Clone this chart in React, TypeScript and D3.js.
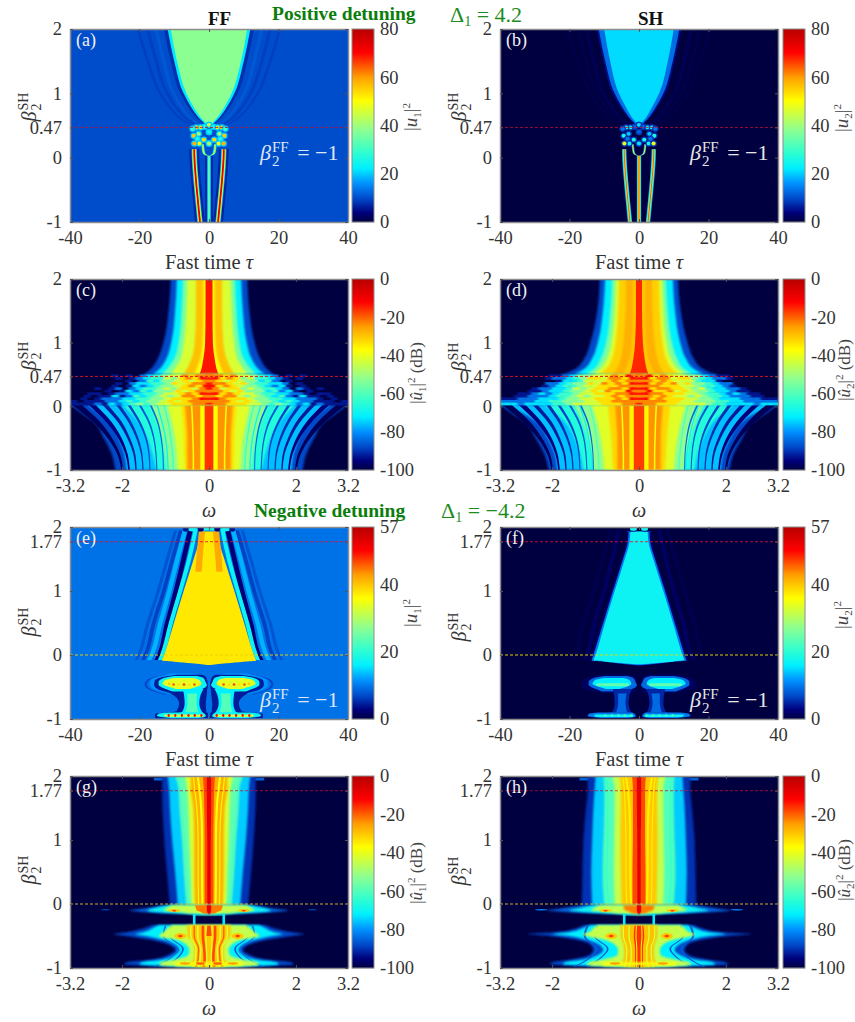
import React, { useEffect, useRef } from 'react';
import * as d3 from 'd3';

type Pt = [number, number, number];
type Band = [number, Pt[]];
type Cell = [number, number, number, number, number];

// colormap (fraction of the colour range -> colour)
const jetStops = [0, 0.05, 0.12, 0.2, 0.28, 0.36, 0.48, 0.63, 0.75, 0.88, 1];
const jetColors = ['#000040', '#00007c', '#0048c8', '#0090ff', '#00f0ff', '#30ffd0', '#90ff90', '#ffff00', '#ffa000', '#ff0000', '#b80000'];

const tauTicks = [-40, -20, 0, 20, 40];
const omegaTicks = [-3.2, -2, 0, 2, 3.2];
const betaTicksTop = [-1, 0, 0.47, 1, 2];
const betaTicksBottom = [-1, 0, 1, 1.77, 2];
const powerTicksPos = [0, 20, 40, 60, 80];
const powerTicksNeg = [0, 20, 40, 57];
const dbTicks = [-100, -80, -60, -40, -20, 0];

// hw may vary along the line: stripes open up towards their tips
const ridge = (v: number, hw: number | number[], betas: number[], centers: number[]): Band =>
  [v, betas.map((b, i) => {
    const w = Array.isArray(hw) ? hw[i] : hw;
    return [b, Math.max(0.0001, centers[i] - w), centers[i] + w] as Pt;
  })];

const col = (v: number, betas: number[], widths: number[]): Band =>
  [v, betas.map((b, i) => [b, 0, widths[i]] as Pt)];

// ---- panels a, b: positive detuning, time domain
const topBetas = [2, 1.5, 1, 0.75, 0.6, 0.52];
const plateauA = [11, 9.2, 6.5, 4, 2, 0.6];
const rimA = [11.9, 10, 7.3, 4.7, 2.6, 1.1];
const haloA = [12.9, 11, 8.2, 5.5, 3.2, 1.6];
const rippleA1 = [15.2, 13, 10.2, 7.4, 5, 3];
const rippleA2 = [17.6, 15.2, 12, 9, 6.4, 4.2];
const rippleA3 = [20.4, 17.6, 14, 10.8, 8, 5.6];
const sideBetas = [-1, -0.75, -0.5, -0.25, 0, 0.13];
const sideLine = [2.6, 3.05, 3.5, 3.9, 4.2, 4.25];
const centerBetas = [-1, 0.03];
const cupBetas = [0.21, 0.14, 0.08, 0.05, 0.035];
const cupLine = [1.8, 1.7, 1.5, 1.1, 0.4];

const bandsA: Band[] = [
  ridge(9, 0.4, topBetas, rippleA3),
  ridge(9, 0.45, topBetas, rippleA2),
  ridge(11, 0.5, topBetas, rippleA1),
  col(7.5, topBetas, haloA),
  col(22, topBetas, rimA),
  col(38, topBetas, plateauA),
  ridge(6.5, 1.4, sideBetas, sideLine),
  col(6.5, centerBetas, [1.1, 1.1]),
  ridge(22, 0.75, sideBetas, sideLine),
  ridge(50, 0.5, sideBetas, sideLine),
  ridge(74, 0.27, sideBetas, sideLine),
  col(22, centerBetas, [0.5, 0.5]),
  col(36, centerBetas, [0.2, 0.2]),
  ridge(24, 0.4, cupBetas, cupLine),
  ridge(52, 0.16, cupBetas, cupLine),
];

const bandsB: Band[] = [
  ridge(0.8, 0.4, topBetas, rippleA3),
  ridge(0.8, 0.45, topBetas, rippleA2),
  ridge(1.4, 0.5, topBetas, rippleA1),
  col(5, topBetas, [12.2, 10.2, 7.6, 4.9, 2.8, 1.3]),
  col(13, topBetas, [11.6, 9.7, 7, 4.4, 2.4, 1]),
  col(21, topBetas, [10, 8.3, 5.8, 3.4, 1.7, 0.5]),
  ridge(21, 0.62, sideBetas, sideLine),
  ridge(40, 0.35, sideBetas, sideLine),
  ridge(64, 0.16, sideBetas, sideLine),
  col(21, centerBetas, [0.6, 0.6]),
  col(48, centerBetas, [0.35, 0.35]),
  col(66, centerBetas, [0.14, 0.14]),
  ridge(16, 0.35, cupBetas, cupLine),
  ridge(50, 0.14, cupBetas, cupLine),
];

const checkerTau = [0, 1.3, 2.5, 3.7, 4.7, 0, 3, 4.4, 3.3, 1.5, 0, 2.8, 4.2];
const checkerBeta = [0.51, 0.48, 0.47, 0.47, 0.45, 0.4, 0.37, 0.34, 0.29, 0.28, 0.22, 0.22, 0.22];
const checkerA = [46, 26, 52, 56, 30, 24, 40, 56, 26, 54, 42, 50, 58];
const checkerB = [22, 12, 24, 26, 14, 12, 20, 26, 14, 26, 22, 24, 48];
// each cell is a cyan blot with a brighter middle
const cellsOf = (vals: number[], rim: number): Cell[] => vals.flatMap((v, i) => [
  [checkerTau[i], checkerBeta[i], rim, 0.95, 0.05] as Cell,
  [checkerTau[i], checkerBeta[i], v, 0.6, 0.03] as Cell,
]);

// ---- panels c, d: positive detuning, spectra
const upperBetas = [2, 1.5, 1, 0.75, 0.6, 0.5];
const fingerBetas = [-1, -0.75, -0.5, -0.25, 0.03];
const edgeBetas = [-1, -0.75, -0.5, -0.25, -0.1, 0.03];
const chaosBetas = [0.5, 0.3, 0.03];
const stripeValues = [-84, -86, -88, -90, -92, -95, -98];
const stripeWidths = [
  [0.012, 0.012, 0.014, 0.018, 0.022],
  [0.012, 0.013, 0.016, 0.022, 0.028],
  [0.013, 0.015, 0.02, 0.028, 0.036],
  [0.014, 0.018, 0.026, 0.036, 0.046],
  [0.016, 0.022, 0.032, 0.046, 0.06],
  [0.018, 0.026, 0.04, 0.06, 0.08],
  [0.02, 0.032, 0.05, 0.08, 0.11],
];
const fingerStripes = [
  [1.05, 1.06, 1.1, 1.18, 1.35],
  [1.2, 1.22, 1.27, 1.38, 1.6],
  [1.36, 1.38, 1.45, 1.6, 1.85],
  [1.52, 1.55, 1.65, 1.82, 2.1],
  [1.68, 1.72, 1.85, 2.05, 2.4],
  [1.84, 1.9, 2.05, 2.3, 2.7],
  [2.0, 2.08, 2.28, 2.58, 3.05],
];

const bandsC: Band[] = [
  col(-88, upperBetas, [0.88, 0.93, 1.05, 1.18, 1.32, 1.5]),
  col(-72, upperBetas, [0.74, 0.78, 0.87, 0.98, 1.12, 1.3]),
  col(-55, upperBetas, [0.6, 0.63, 0.7, 0.8, 0.95, 1.1]),
  col(-42, upperBetas, [0.5, 0.52, 0.58, 0.65, 0.78, 0.9]),
  col(-29, upperBetas, [0.3, 0.3, 0.33, 0.4, 0.5, 0.6]),
  col(-38, upperBetas, [0.13, 0.13, 0.15, 0.2, 0.28, 0.35]),
  col(-14, upperBetas, [0.08, 0.08, 0.09, 0.13, 0.17, 0.22]),
  col(-88, edgeBetas, [2.16, 2.24, 2.42, 2.65, 2.95, 3.2]),
  col(-76, edgeBetas, [1.9, 1.95, 2.08, 2.3, 2.55, 2.8]),
  col(-66, fingerBetas, [1.2, 1.3, 1.42, 1.62, 2.0]),
  col(-52, fingerBetas, [0.98, 1.02, 1.08, 1.2, 1.35]),
  col(-41, fingerBetas, [0.72, 0.74, 0.78, 0.85, 0.95]),
  col(-33, fingerBetas, [0.56, 0.57, 0.58, 0.6, 0.64]),
  col(-24, fingerBetas, [0.5, 0.5, 0.5, 0.52, 0.55]),
  col(-37, fingerBetas, [0.2, 0.2, 0.2, 0.2, 0.2]),
  col(-16, fingerBetas, [0.1, 0.1, 0.1, 0.1, 0.1]),
  ridge(-38, 0.018, fingerBetas, [0.36, 0.36, 0.37, 0.38, 0.4]),
  ridge(-62, 0.016, fingerBetas, [0.82, 0.84, 0.88, 0.94, 1.04]),
  ridge(-70, 0.016, fingerBetas, [0.94, 0.96, 1.0, 1.08, 1.2]),
  ...fingerStripes.map((s, i) => ridge(stripeValues[i], stripeWidths[i], fingerBetas, s)),
  col(-84, chaosBetas, [1.5, 1.8, 2.4]),
  col(-62, chaosBetas, [1.1, 1.3, 1.7]),
  col(-40, chaosBetas, [0.8, 0.85, 1.0]),
  col(-24, chaosBetas, [0.5, 0.5, 0.55]),
  col(-14, chaosBetas, [0.1, 0.1, 0.1]),
];

const bandsD: Band[] = [
  col(-88, upperBetas, [0.9, 0.96, 1.12, 1.26, 1.44, 1.75]),
  col(-72, upperBetas, [0.78, 0.83, 0.95, 1.08, 1.24, 1.5]),
  col(-55, upperBetas, [0.62, 0.66, 0.76, 0.88, 1.02, 1.25]),
  col(-42, upperBetas, [0.53, 0.56, 0.64, 0.74, 0.88, 1.08]),
  col(-31, upperBetas, [0.46, 0.48, 0.54, 0.62, 0.74, 0.92]),
  col(-27, upperBetas, [0.3, 0.31, 0.36, 0.42, 0.5, 0.62]),
  col(-30, upperBetas, [0.14, 0.14, 0.16, 0.22, 0.3, 0.38]),
  col(-15, upperBetas, [0.07, 0.07, 0.09, 0.13, 0.17, 0.22]),
  col(-88, edgeBetas, [2.08, 2.18, 2.38, 2.62, 2.95, 3.2]),
  col(-76, edgeBetas, [1.88, 1.94, 2.1, 2.35, 2.7, 3.15]),
  col(-66, fingerBetas, [1.28, 1.35, 1.48, 1.7, 2.2]),
  col(-52, fingerBetas, [1.05, 1.1, 1.18, 1.3, 1.5]),
  col(-41, fingerBetas, [0.8, 0.83, 0.88, 0.96, 1.08]),
  col(-32, fingerBetas, [0.6, 0.62, 0.64, 0.68, 0.72]),
  col(-24, fingerBetas, [0.5, 0.5, 0.5, 0.52, 0.55]),
  col(-36, fingerBetas, [0.22, 0.22, 0.22, 0.22, 0.22]),
  col(-17, fingerBetas, [0.12, 0.12, 0.12, 0.12, 0.12]),
  ridge(-38, 0.018, fingerBetas, [0.36, 0.36, 0.37, 0.38, 0.4]),
  ridge(-60, 0.016, fingerBetas, [0.92, 0.94, 0.98, 1.04, 1.14]),
  ridge(-70, 0.016, fingerBetas, [1.08, 1.1, 1.16, 1.24, 1.38]),
  ...fingerStripes.map((s, i) => ridge(stripeValues[i], stripeWidths[i], fingerBetas, s)),
  col(-84, chaosBetas, [1.8, 2.0, 2.8]),
  col(-62, chaosBetas, [1.3, 1.5, 2.0]),
  col(-38, chaosBetas, [1.0, 1.05, 1.2]),
  col(-24, chaosBetas, [0.6, 0.6, 0.62]),
  col(-14, chaosBetas, [0.1, 0.1, 0.1]),
];

// chaotic zone, in tens of dB below peak; 10 = nothing
const chaosC = [
  [2, 2, 3, 2, 4, 4, 5, 6, 7, 8, 10, 9, 10, 9, 10, 10, 10, 10, 10, 10],
  [1, 3, 2, 3, 5, 4, 6, 6, 7, 8, 9, 10, 9, 10, 10, 10, 10, 10, 10, 10],
  [2, 3, 4, 3, 4, 5, 5, 7, 6, 8, 10, 9, 10, 10, 10, 10, 10, 10, 10, 10],
  [2, 2, 3, 4, 3, 5, 6, 6, 7, 7, 8, 10, 9, 10, 10, 10, 10, 10, 10, 10],
  [1, 3, 2, 3, 4, 5, 5, 6, 7, 8, 7, 9, 10, 9, 10, 10, 10, 10, 10, 10],
  [2, 4, 3, 3, 5, 4, 5, 6, 6, 7, 8, 10, 8, 9, 10, 9, 10, 10, 10, 10],
  [2, 2, 3, 4, 3, 5, 5, 5, 7, 6, 8, 7, 9, 10, 9, 10, 10, 10, 10, 10],
  [1, 3, 2, 3, 4, 4, 5, 6, 6, 7, 7, 8, 8, 9, 10, 9, 9, 10, 10, 10],
  [2, 3, 2, 2, 4, 5, 4, 5, 6, 7, 6, 8, 9, 7, 9, 9, 10, 9, 10, 10],
  [1, 2, 3, 3, 3, 4, 5, 5, 6, 6, 7, 7, 8, 8, 8, 9, 10, 9, 10, 10],
  [2, 2, 2, 3, 4, 3, 4, 5, 5, 6, 7, 6, 7, 8, 8, 9, 9, 9, 10, 9],
  [2, 2, 3, 3, 3, 4, 4, 5, 6, 5, 6, 7, 8, 7, 9, 8, 9, 9, 9, 9],
];
const chaosD = [
  [2, 1, 3, 2, 3, 4, 4, 5, 5, 7, 8, 9, 9, 10, 10, 10, 10, 10, 10, 10],
  [1, 3, 2, 2, 4, 3, 3, 5, 6, 7, 8, 8, 9, 10, 10, 10, 10, 10, 10, 10],
  [2, 2, 3, 2, 3, 4, 4, 4, 6, 7, 7, 9, 10, 10, 10, 10, 10, 10, 10, 10],
  [1, 3, 2, 3, 2, 4, 3, 5, 5, 6, 7, 8, 8, 10, 10, 10, 10, 10, 10, 10],
  [2, 2, 2, 3, 3, 3, 4, 4, 5, 6, 6, 7, 8, 9, 10, 10, 10, 10, 10, 10],
  [1, 3, 2, 2, 3, 3, 4, 5, 4, 6, 7, 7, 8, 8, 9, 10, 10, 10, 10, 10],
  [2, 1, 3, 3, 2, 4, 3, 4, 5, 5, 6, 7, 7, 8, 9, 9, 10, 10, 10, 10],
  [1, 2, 2, 3, 3, 3, 4, 4, 5, 6, 6, 7, 8, 7, 8, 9, 9, 10, 10, 10],
  [2, 2, 3, 2, 3, 4, 4, 5, 4, 5, 6, 6, 7, 8, 8, 8, 9, 9, 10, 10],
  [1, 3, 2, 3, 3, 3, 4, 4, 5, 5, 6, 7, 7, 7, 8, 8, 8, 9, 9, 9],
  [2, 2, 2, 2, 3, 3, 4, 4, 5, 5, 5, 6, 6, 7, 7, 8, 8, 8, 8, 8],
  [2, 2, 3, 3, 3, 4, 4, 4, 4, 5, 6, 6, 7, 7, 7, 7, 8, 7, 7, 7],
];

// ---- panels e, f: negative detuning, time domain
const rippleBetas = [1.95, 1.5, 1, 0.5, 0, -0.08];
const bandsE: Band[] = [
  ridge(7.6, 0.45, rippleBetas, [9.6, 12, 14.6, 17.6, 20.2, 20.9]),
  ridge(6.5, 0.55, rippleBetas, [8.1, 10.5, 13, 15.9, 18.3, 19]),
  ridge(13, 0.65, rippleBetas, [6.9, 9.1, 11.4, 14, 16.5, 17.2]),
  ridge(2.5, 0.7, rippleBetas, [5.4, 7.3, 9.5, 12, 14.3, 15]),
  ridge(17, 0.6, rippleBetas, [3.9, 5.7, 8.3, 11, 13.5, 14.1]),
  [37.5, [[1.93, 0, 2.8], [1.77, 0, 3], [1.5, 0, 4.4], [1, 0, 7.3], [0.5, 0, 10.1], [0, 0, 12.9], [-0.09, 0, 13.5], [-0.105, 0, 10], [-0.13, 0, 5], [-0.155, 0, 0.5]]],
  ridge(42, 0.9, [1.93, 1.6, 1.3], [2, 2.6, 3]),
  ridge(6.8, 0.35, [-0.3, -0.38, -0.46, -0.55, -0.62], [12, 17.2, 18.2, 16.5, 12.5]),
  [11.5, [[-0.29, 5, 11], [-0.33, 2.5, 14], [-0.4, 1.5, 16.8], [-0.47, 1, 17], [-0.54, 2, 15.6], [-0.6, 6, 11.5]]],
  [4.5, [[-0.31, 2, 9], [-0.34, 0.9, 13], [-0.4, 0.5, 15.6], [-0.47, 0.3, 15.8], [-0.54, 0.5, 14.6], [-0.6, 0.6, 11], [-0.75, 0.9, 8.6], [-0.88, 0.8, 9.4], [-0.92, 0.3, 15.5], [-0.99, 0.3, 15.5]]],
  [17, [[-0.33, 3.5, 10], [-0.36, 1.6, 13], [-0.42, 1, 14.5], [-0.47, 0.6, 14.5], [-0.52, 1.5, 13], [-0.57, 5, 10.5]]],
  [34, [[-0.36, 4.5, 10], [-0.39, 2.8, 12.6], [-0.45, 2.2, 13.4], [-0.49, 3.2, 12], [-0.53, 5.6, 9.5]]],
  [16, [[-0.53, 1.6, 7.5], [-0.62, 2.4, 7.2], [-0.75, 2.8, 7], [-0.88, 2.1, 7.6], [-0.92, 1.5, 9]]],
  [23, [[-0.6, 3.4, 6.2], [-0.75, 3.6, 6.2], [-0.9, 3, 6.8]]],
  [17, [[-0.9, 2, 12], [-0.92, 1.2, 14.6], [-0.95, 0.9, 15], [-0.97, 1.2, 13.6], [-0.985, 3, 11]]],
  [31, [[-0.93, 1.8, 12.6], [-0.95, 1.5, 13], [-0.97, 2, 12]]],
];

const dotsE: Cell[] = [
  [2.7, -0.455, 38, 0.4, 0.02], [4.2, -0.46, 46, 0.4, 0.02], [5.7, -0.47, 38, 0.4, 0.02], [7.2, -0.46, 47, 0.4, 0.02], [8.7, -0.46, 38, 0.4, 0.02], [10.2, -0.46, 46, 0.4, 0.02], [11.5, -0.45, 40, 0.4, 0.02],
  [2.2, -0.945, 50, 0.32, 0.022], [4.1, -0.945, 52, 0.32, 0.022], [5.9, -0.945, 50, 0.32, 0.022], [7.8, -0.945, 52, 0.32, 0.022], [9.7, -0.945, 50, 0.32, 0.022], [11.6, -0.945, 50, 0.32, 0.022],
  [0.9, 1.97, 18, 1.2, 0.025], [2.4, 1.97, 3, 0.9, 0.04], [4.6, 1.96, 17, 1.4, 0.03], [6.7, 1.96, 4, 0.8, 0.035],
];

const bandsF: Band[] = [
  ridge(0.8, 0.45, rippleBetas, [8.1, 10.5, 13, 15.9, 18.3, 19]),
  ridge(1.6, 0.6, rippleBetas, [5.8, 7.7, 10, 12.8, 15, 15.7]),
  [2.5, [[1.93, 0, 3.4], [1.77, 0, 3.7], [1.5, 0, 5], [1, 0, 8], [0.5, 0, 10.8], [0, 0, 13.6], [-0.09, 0, 14], [-0.105, 0, 10], [-0.14, 0, 5], [-0.165, 0, 0.5]]],
  [10, [[1.93, 0, 3], [1.77, 0, 3.2], [1.5, 0, 4.6], [1, 0, 7.5], [0.5, 0, 10.3], [0, 0, 13.1], [-0.09, 0, 13.6], [-0.105, 0, 10], [-0.135, 0, 5], [-0.16, 0, 0.5]]],
  [17, [[1.93, 0, 2.5], [1.77, 0, 2.7], [1.5, 0, 4.1], [1, 0, 7], [0.5, 0, 9.8], [0, 0, 12.5], [-0.08, 0, 13], [-0.1, 0, 10], [-0.125, 0, 5], [-0.145, 0, 0.5]]],
  [1.4, [[-0.3, 3, 10], [-0.34, 1, 14], [-0.42, 0.7, 16.4], [-0.48, 0.5, 16.6], [-0.55, 0.8, 14.6], [-0.6, 1.5, 10]]],
  [9, [[-0.33, 3.5, 10], [-0.36, 1.6, 13], [-0.42, 1, 14.5], [-0.47, 0.6, 14.5], [-0.52, 1.5, 13], [-0.57, 5, 10.5]]],
  [16, [[-0.36, 4.5, 10], [-0.39, 2.8, 12.6], [-0.45, 2.2, 13.4], [-0.49, 3.2, 12], [-0.53, 5.6, 9.5]]],
  [24, [[-0.44, 3, 12], [-0.465, 2.8, 12.4], [-0.49, 3.5, 11.6]]],
  [5, [[-0.53, 2, 7.5], [-0.62, 2.7, 7.2], [-0.75, 3, 7], [-0.88, 2.4, 7.6], [-0.92, 1.8, 9]]],
  [9, [[-0.6, 3.6, 6], [-0.75, 3.9, 6], [-0.9, 3.4, 6.6]]],
  [10, [[-0.9, 2, 12], [-0.92, 1.2, 14.4], [-0.95, 0.9, 14.8], [-0.97, 1.2, 13.6], [-0.985, 3, 11]]],
  [17, [[-0.93, 1.8, 12.6], [-0.95, 1.5, 13], [-0.97, 2, 12]]],
];

const dotsF: Cell[] = [
  [1.6, 1.97, 17, 1, 0.03], [2.2, 1.93, 6, 1.4, 0.008],
  [2.2, -0.945, 22, 0.35, 0.02], [4.1, -0.945, 22, 0.35, 0.02], [5.9, -0.945, 22, 0.35, 0.02], [7.8, -0.945, 22, 0.35, 0.02], [9.7, -0.945, 22, 0.35, 0.02],
];

// ---- panels g, h: negative detuning, spectra
const colBetas = [2, 1.8, 1.5, 1, 0.5, -0.02];
const lensBetas = [-0.02, -0.07, -0.1, -0.12, -0.15, -0.165];
const blockBetas = [-0.33, -0.38, -0.44, -0.47, -0.5, -0.56, -0.62, -0.72, -0.8, -0.87, -0.91, -0.945, -0.97, -0.99];
const fanBetas = [-0.34, -0.5, -0.7, -0.85, -0.98];

const bandsG: Band[] = [
  ridge(-85, 0.12, [1.97, 1.93], [1.15, 1.15]),
  col(-90, colBetas, [1.08, 1.08, 1.07, 1.03, 0.97, 0.9]),
  col(-75, colBetas, [0.95, 0.92, 0.9, 0.85, 0.78, 0.72]),
  col(-58, colBetas, [0.78, 0.7, 0.68, 0.62, 0.58, 0.52]),
  col(-42, colBetas, [0.55, 0.5, 0.47, 0.45, 0.42, 0.4]),
  ridge(-62, 0.012, colBetas, [0.72, 0.66, 0.62, 0.56, 0.52, 0.47]),
  col(-27, colBetas, [0.42, 0.42, 0.36, 0.34, 0.34, 0.32]),
  ridge(-38, 0.025, colBetas, [0.26, 0.22, 0.18, 0.16, 0.16, 0.15]),
  ridge(-36, 0.014, colBetas, [0.36, 0.33, 0.28, 0.25, 0.25, 0.24]),
  col(-18, colBetas, [0.14, 0.12, 0.11, 0.1, 0.1, 0.1]),
  col(-8, colBetas, [0.05, 0.05, 0.05, 0.04, 0.04, 0.04]),
  col(-85, lensBetas, [1.05, 1.5, 1.82, 1.6, 0.8, 0.3]),
  col(-70, lensBetas, [0.9, 1.3, 1.42, 1.3, 0.6, 0.2]),
  col(-45, lensBetas, [0.85, 1, 1.05, 0.75, 0.4, 0.12]),
  col(-22, lensBetas, [0.32, 0.3, 0.28, 0.2, 0.12, 0.05]),
  col(-8, lensBetas, [0.05, 0.05, 0.05, 0.04, 0.03, 0.02]),
  col(-72, [-0.155, -0.175], [0.36, 0.36]),
  ridge(-72, 0.03, [-0.16, -0.33], [0.34, 0.34]),
  col(-88, blockBetas, [1.3, 1.5, 1.9, 2.2, 1.9, 1.35, 0.98, 0.78, 0.95, 1.35, 1.9, 1.95, 1.2, 0.4]),
  col(-72, blockBetas, [1.15, 1.3, 1.5, 1.7, 1.45, 1.05, 0.82, 0.68, 0.8, 1.1, 1.55, 1.6, 1.0, 0.3]),
  ridge(-84, 0.02, fanBetas, [1.0, 1.05, 0.72, 0.9, 1.25]),
  ridge(-86, 0.02, fanBetas, [0.86, 0.9, 0.6, 0.74, 1.05]),
  col(-45, blockBetas, [0.85, 0.95, 1.05, 1.12, 1.15, 0.75, 0.55, 0.45, 0.48, 0.8, 1.1, 1.15, 0.9, 0.2]),
  col(-30, blockBetas, [0.5, 0.5, 0.5, 0.5, 0.5, 0.42, 0.36, 0.34, 0.34, 0.36, 0.42, 0.42, 0.36, 0.1]),
  ridge(-42, 0.018, fanBetas, [0.42, 0.42, 0.3, 0.31, 0.38]),
  ridge(-42, 0.018, fanBetas, [0.26, 0.26, 0.19, 0.2, 0.24]),
  ridge(-18, 0.03, fanBetas, [0.14, 0.14, 0.11, 0.1, 0.12]),
  ridge(-20, 0.016, fanBetas, [0.34, 0.34, 0.24, 0.25, 0.3]),
  ridge(-42, 0.014, fanBetas, [0.07, 0.07, 0.06, 0.05, 0.06]),
  col(-18, [-0.34, -0.5], [0.04, 0.06]),
  col(-38, [-0.91, -0.96], [0.78, 0.78]),
];
const spotsG: Cell[] = [
  [0.8, -0.1, -30, 0.14, 0.022], [0.8, -0.105, -16, 0.05, 0.012],
  [0.66, -0.5, -30, 0.14, 0.045], [0.66, -0.5, -17, 0.05, 0.02],
  [0.55, -0.93, -25, 0.12, 0.018], [0.2, -0.93, -20, 0.1, 0.02],
  [2.38, -0.09, -85, 0.1, 0.008],
];

const bandsH: Band[] = [
  ridge(-85, 0.12, [1.97, 1.93], [1.25, 1.25]),
  col(-90, colBetas, [1.18, 1.18, 1.22, 1.28, 1.3, 1.32]),
  col(-75, colBetas, [1.0, 1.02, 1.05, 1.08, 1.1, 1.08]),
  col(-60, colBetas, [0.82, 0.8, 0.8, 0.82, 0.84, 0.8]),
  col(-45, colBetas, [0.62, 0.56, 0.56, 0.57, 0.58, 0.56]),
  ridge(-64, 0.012, colBetas, [0.78, 0.72, 0.72, 0.72, 0.74, 0.7]),
  col(-30, colBetas, [0.45, 0.42, 0.42, 0.43, 0.42, 0.4]),
  ridge(-35, 0.025, colBetas, [0.3, 0.26, 0.22, 0.2, 0.2, 0.18]),
  ridge(-35, 0.014, colBetas, [0.38, 0.34, 0.32, 0.3, 0.3, 0.28]),
  col(-18, colBetas, [0.16, 0.14, 0.14, 0.14, 0.15, 0.15]),
  col(-8, colBetas, [0.05, 0.05, 0.05, 0.04, 0.04, 0.04]),
  col(-85, lensBetas, [1.3, 1.8, 2.1, 1.8, 0.9, 0.3]),
  col(-70, lensBetas, [1.05, 1.4, 1.6, 1.35, 0.62, 0.2]),
  col(-45, lensBetas, [0.9, 1.05, 1.1, 0.8, 0.42, 0.12]),
  col(-22, lensBetas, [0.35, 0.35, 0.3, 0.22, 0.14, 0.05]),
  col(-8, lensBetas, [0.05, 0.05, 0.05, 0.04, 0.03, 0.02]),
  col(-72, [-0.155, -0.175], [0.36, 0.36]),
  ridge(-72, 0.03, [-0.16, -0.33], [0.34, 0.34]),
  col(-88, blockBetas, [1.25, 1.45, 1.9, 2.6, 2.05, 1.45, 1.15, 1.05, 1.15, 1.6, 2.0, 2.05, 1.2, 0.4]),
  col(-72, blockBetas, [1.1, 1.3, 1.6, 2.0, 1.6, 1.2, 0.95, 0.82, 0.95, 1.3, 1.7, 1.75, 1.0, 0.3]),
  ridge(-86, 0.025, fanBetas, [1.18, 1.25, 0.98, 1.15, 1.5]),
  ridge(-86, 0.02, fanBetas, [0.96, 1.02, 0.72, 0.9, 1.2]),
  col(-45, blockBetas, [0.95, 1.05, 1.15, 1.3, 1.2, 0.8, 0.58, 0.48, 0.5, 0.85, 1.15, 1.2, 0.95, 0.2]),
  col(-29, blockBetas, [0.42, 0.42, 0.42, 0.42, 0.42, 0.4, 0.36, 0.34, 0.34, 0.36, 0.4, 0.4, 0.36, 0.1]),
  ridge(-42, 0.016, fanBetas, [0.36, 0.36, 0.28, 0.29, 0.34]),
  ridge(-42, 0.016, fanBetas, [0.23, 0.23, 0.18, 0.18, 0.22]),
  col(-16, [-0.34, -0.5, -0.7, -0.98], [0.1, 0.12, 0.09, 0.09]),
  ridge(-38, 0.012, fanBetas, [0.06, 0.07, 0.05, 0.05, 0.06]),
  col(-38, [-0.91, -0.96], [0.85, 0.85]),
];
const spotsH: Cell[] = [
  [0.77, -0.1, -30, 0.14, 0.022], [0.77, -0.105, -16, 0.05, 0.012],
  [0.64, -0.5, -30, 0.14, 0.045], [0.64, -0.5, -17, 0.055, 0.02],
  [0.55, -0.93, -25, 0.12, 0.018], [2.25, -0.09, -82, 0.15, 0.012],
];

type MathPart = { t: string; i?: boolean; dy?: number; size?: number; dx?: number };

// text with sub/superscripts, shifts are relative to the baseline
function mathText(g: any, parts: MathPart[], size: number, color: string, anchor = 'start') {
  const text = g.append('text').attr('font-family', 'Liberation Serif').attr('font-size', size)
    .attr('fill', color).attr('text-anchor', anchor).attr('xml:space', 'preserve');
  let prev = 0;
  parts.forEach(p => {
    const shift = p.dy ?? 0;
    text.append('tspan').text(p.t).attr('font-style', p.i ? 'italic' : 'normal')
      .attr('font-size', p.size ?? size).attr('dy', shift - prev).attr('dx', p.dx ?? 0);
    prev = shift;
  });
  return text;
}

const betaLabel: MathPart[] = [
  { t: 'β', i: true },
  { t: '2', dy: 5, size: 14, dx: 1 },
  { t: 'SH', dy: -8, size: 14, dx: -7 },
];
const ffLabel: MathPart[] = [
  { t: 'β', i: true },
  { t: '2', dy: 6, size: 15, dx: 1 },
  { t: 'FF', dy: -8, size: 15, dx: -7.5 },
  { t: ' = −1', dy: 0, dx: 3 },
];
const cbLabel = (hat: string, idx: string, db: boolean): MathPart[] => [
  { t: '|' },
  { t: hat, i: true },
  { t: idx, dy: 4, size: 11 },
  { t: '|' , dy: 0 },
  { t: '2', dy: -7, size: 11 },
  ...(db ? [{ t: ' (dB)', dy: 0 }] : []),
];

const colW = [70, 500];
const rowT = [29, 279, 527, 776];
const rowH = [193, 191, 192, 192];
const plotW = 278;

const panels = [
  { id: 'a', c: 0, r: 0, kind: 'tau', min: 0, max: 80, cb: powerTicksPos, bg: 10, bands: bandsA, cells: cellsOf(checkerA, 20), label: cbLabel('u', '1', false), lbY: 117, yb: 107, yTicks: betaTicksTop },
  { id: 'b', c: 1, r: 0, kind: 'tau', min: 0, max: 80, cb: powerTicksPos, bg: 0, bands: bandsB, cells: cellsOf(checkerB, 8), label: cbLabel('u', '2', false), lbY: 118, yb: 107, yTicks: betaTicksTop },
  { id: 'c', c: 0, r: 1, kind: 'omega', min: -100, max: 0, cb: dbTicks, bg: -100, bands: bandsC, chaos: chaosC, label: cbLabel('û', '1', true), lbY: 373, yb: 356, yTicks: betaTicksTop },
  { id: 'd', c: 1, r: 1, kind: 'omega', min: -100, max: 0, cb: dbTicks, bg: -100, bands: bandsD, chaos: chaosD, label: cbLabel('û', '2', true), lbY: 370, yb: 357, yTicks: betaTicksTop },
  { id: 'e', c: 0, r: 2, kind: 'tau', min: 0, max: 57, cb: powerTicksNeg, bg: 9.5, bands: bandsE, cells: dotsE, label: cbLabel('u', '1', false), lbY: 613, yb: 622, yTicks: betaTicksBottom },
  { id: 'f', c: 1, r: 2, kind: 'tau', min: 0, max: 57, cb: powerTicksNeg, bg: 0, bands: bandsF, cells: dotsF, label: cbLabel('u', '2', false), lbY: 615, yb: 627, yTicks: betaTicksBottom },
  { id: 'g', c: 0, r: 3, kind: 'omega', min: -100, max: 0, cb: dbTicks, bg: -100, bands: bandsG, cells: spotsG, label: cbLabel('û', '1', true), lbY: 873, yb: 870, yTicks: betaTicksBottom },
  { id: 'h', c: 1, r: 3, kind: 'omega', min: -100, max: 0, cb: dbTicks, bg: -100, bands: bandsH, cells: spotsH, label: cbLabel('û', '2', true), lbY: 870, yb: 871, yTicks: betaTicksBottom },
];

const dashLines: Record<string, [number, string, number][]> = {
  a: [[0.47, '#c01030', 0.85]], b: [[0.47, '#c01030', 0.8]], c: [[0.47, '#e01020', 0.95]], d: [[0.47, '#e01020', 0.95]],
  e: [[1.77, '#e01030', 0.85], [0, '#f0d000', 0.95]], f: [[1.77, '#e01030', 0.85], [0, '#e8d800', 0.95]],
  g: [[1.77, '#c81030', 0.75], [0, '#e0c030', 0.9]], h: [[1.77, '#c81030', 0.75], [0, '#e0c030', 0.9]],
};

const GREY = '#8c8c8c';
const INK = '#333333';

function styleAxis(g: any) {
  g.selectAll('.domain').attr('stroke', GREY).attr('stroke-width', 1.5);
  g.selectAll('.tick line').attr('stroke', '#555');
  g.selectAll('.tick text').attr('font-family', 'Liberation Serif').attr('font-size', 18.5).attr('fill', INK);
}

export default function App() {
  const ref = useRef<SVGSVGElement>(null);

  useEffect(() => {
    const svg = d3.select(ref.current);
    svg.selectAll('*').remove();
    const defs = svg.append('defs');
    const jet = d3.scaleLinear<string>().domain(jetStops).range(jetColors).clamp(true);

    defs.append('filter').attr('id', 'soft').attr('filterUnits', 'userSpaceOnUse')
      .attr('x', 0).attr('y', 0).attr('width', 855).attr('height', 1022)
      .append('feGaussianBlur').attr('stdDeviation', 0.5);
    const blurDefs: [string, string][] = [['mid', '0.7'], ['wide', '1'], ['chaos', '1.1 0.35']];
    blurDefs.forEach(([id, dev]) => {
      defs.append('filter').attr('id', id).attr('x', '-30%').attr('y', '-30%').attr('width', '160%').attr('height', '160%')
        .append('feGaussianBlur').attr('stdDeviation', dev);
    });

    panels.forEach(p => {
      const left = colW[p.c], top = rowT[p.r], h = rowH[p.r];
      const isTau = p.kind === 'tau';
      const x = d3.scaleLinear().domain(isTau ? [-40, 40] : [-3.2, 3.2]).range([left, left + plotW]);
      const y = d3.scaleLinear().domain([-1, 2]).range([top + h, top]);
      const color = (v: number) => jet((v - p.min) / (p.max - p.min));

      defs.append('clipPath').attr('id', `clip-${p.id}`).append('rect')
        .attr('x', left).attr('y', top).attr('width', plotW).attr('height', h);

      const plot = svg.append('g').attr('clip-path', `url(#clip-${p.id})`)
        .append('g').attr('filter', 'url(#soft)');
      plot.append('rect').attr('x', left - 5).attr('y', top - 5).attr('width', plotW + 10).attr('height', h + 10)
        .attr('fill', color(p.bg));

      // bands touching the centre are one full shape, so the blur leaves no seam at 0
      p.bands.forEach(([v, pts]) => {
        const pxW = d3.max(pts, d => x(d[2]) - x(d[1])) ?? 0;
        const whole = pts.every(d => d[1] === 0);
        const blur = isTau ? (pxW > 3.5 ? 'url(#mid)' : null) : (pxW > 14 ? 'url(#wide)' : null);
        const shapes = whole ? [0] : [-1, 1];
        shapes.forEach(sign => {
          const area = d3.area<Pt>()
            .y(d => y(d[0]))
            .x0(d => x(whole ? -d[2] : sign * d[1]))
            .x1(d => x(whole ? d[2] : sign * d[2]))
            .curve(d3.curveMonotoneY);
          plot.append('path').attr('d', area(pts)).attr('fill', color(v)).attr('filter', blur);
        });
      });

      if (p.chaos) {
        const chaosG = plot.append('g').attr('filter', 'url(#chaos)');
        [-1, 1].forEach(sign => {
          p.chaos.forEach((row, ri) => {
            row.forEach((lvl, ci) => {
              if (lvl >= 10) return;
              // odd rows are shifted half a cell so the patches do not line up
              const off = ri % 2 ? 0.08 : 0;
              const x0 = x(sign * (ci * 0.16 + off)), x1 = x(sign * ((ci + 1) * 0.16 + off));
              chaosG.append('rect').attr('x', Math.min(x0, x1)).attr('y', y(0.5 - ri * 0.04))
                .attr('width', Math.abs(x1 - x0)).attr('height', y(0) - y(0.04) + 0.3)
                .attr('fill', color(-10 * lvl - 3));
            });
          });
        });
      }

      [-1, 1].forEach(sign => {
        (p.cells ?? []).forEach(([cx, b, v, rx, ry]) => {
          plot.append('ellipse').attr('cx', x(sign * cx)).attr('cy', y(b))
            .attr('rx', Math.abs(x(rx) - x(0))).attr('ry', Math.abs(y(ry) - y(0)))
            .attr('fill', color(v));
        });
      });

      // dashed guide lines
      dashLines[p.id].forEach(([b, c, o]) => {
        svg.append('line').attr('x1', left).attr('x2', left + plotW).attr('y1', y(b)).attr('y2', y(b))
          .attr('stroke', c).attr('stroke-opacity', o).attr('stroke-width', 1).attr('stroke-dasharray', '3 2');
      });

      // axes, ticks pointing inward on all four sides
      const xVals = isTau ? tauTicks : omegaTicks;
      const bottom = svg.append('g').attr('transform', `translate(0,${top + h})`)
        .call(d3.axisBottom(x).tickValues(xVals).tickSize(-3).tickPadding(9).tickSizeOuter(0).tickFormat(d => String(d)));
      const topAxis = svg.append('g').attr('transform', `translate(0,${top})`)
        .call(d3.axisTop(x).tickValues(xVals).tickSize(-3).tickSizeOuter(0).tickFormat(() => ''));
      const leftAxis = svg.append('g').attr('transform', `translate(${left},0)`)
        .call(d3.axisLeft(y).tickValues(p.yTicks).tickSize(-3).tickPadding(8).tickSizeOuter(0).tickFormat(d => String(d)));
      const rightAxis = svg.append('g').attr('transform', `translate(${left + plotW},0)`)
        .call(d3.axisRight(y).tickValues(p.yTicks).tickSize(-3).tickSizeOuter(0).tickFormat(() => ''));
      [bottom, topAxis, leftAxis, rightAxis].forEach(styleAxis);

      // panel letter
      svg.append('text').attr('x', left + 6).attr('y', top + 17).attr('fill', '#f2f2f2')
        .attr('font-family', 'Liberation Serif').attr('font-size', 18).text(`(${p.id})`);

      // x label
      const xl = svg.append('g').attr('transform', `translate(${left + 139},${top + h + 47})`);
      if (isTau) mathText(xl, [{ t: 'Fast time ' }, { t: 'τ', i: true }], 20.5, INK, 'middle');
      else mathText(xl, [{ t: 'ω', i: true }], 20, INK, 'middle');

      // y label
      const yl = svg.append('g').attr('transform', `translate(${left - 34},${p.yb}) rotate(-90)`);
      mathText(yl, betaLabel, 20, INK, 'middle');

      // beta_2^FF note in the time panels
      if (isTau) {
        const note = svg.append('g').attr('transform', `translate(${left + 190},${p.r === 0 ? 160 : 707})`);
        mathText(note, ffLabel, 22, p.c === 0 ? '#dfe6f5' : '#e6e6e6');
      }

      // colour bar
      const cbX = left + plotW + (p.c === 0 ? 4 : 5);
      const cbW = 22;
      const cy = d3.scaleLinear().domain([p.min, p.max]).range([top + h, top]);
      const cb = svg.append('g');
      d3.range(0, h).forEach(i => {
        const v = cy.invert(top + h - i - 0.5);
        cb.append('rect').attr('x', cbX).attr('y', top + h - i - 1).attr('width', cbW).attr('height', 1.2).attr('fill', color(v));
      });
      cb.append('rect').attr('x', cbX).attr('y', top).attr('width', cbW).attr('height', h)
        .attr('fill', 'none').attr('stroke', GREY).attr('stroke-width', 1);
      const cbAxis = svg.append('g').attr('transform', `translate(${cbX + cbW},0)`)
        .call(d3.axisRight(cy).tickValues(p.cb).tickSize(0).tickPadding(6).tickSizeOuter(0).tickFormat(d => String(d)));
      cbAxis.select('.domain').remove();
      styleAxis(cbAxis);

      const lbX = cbX + cbW + (p.kind === 'omega' ? (p.c === 0 ? 48 : 45) : 43);
      const lb = svg.append('g').attr('transform', `translate(${lbX},${p.lbY}) rotate(-90)`);
      mathText(lb, p.label, p.kind === 'omega' ? 17 : 19, '#444', 'middle');
    });

    // column and row headings
    const heading = (tx: number, ty: number, t: string, fill: string, size: number, bold: boolean) =>
      svg.append('text').attr('x', tx).attr('y', ty).attr('fill', fill).attr('font-family', 'Liberation Serif')
        .attr('font-size', size).attr('font-weight', bold ? 'bold' : 'normal').text(t);
    heading(208, 25, 'FF', '#111', 19, true);
    heading(638, 25, 'SH', '#111', 19, true);
    heading(272, 20, 'Positive detuning', '#0b7d0b', 19.5, true);
    heading(254, 517, 'Negative detuning', '#0b7d0b', 19.5, true);
    const d1 = svg.append('g').attr('transform', 'translate(450,22)');
    mathText(d1, [{ t: 'Δ' }, { t: '1', dy: 4, size: 14 }, { t: ' = 4.2', dy: 0 }], 22, '#1c8c1c');
    const d2 = svg.append('g').attr('transform', 'translate(441,518)');
    mathText(d2, [{ t: 'Δ' }, { t: '1', dy: 4, size: 14 }, { t: ' = −4.2', dy: 0 }], 22, '#1c8c1c');
  }, []);

  return <svg ref={ref} width={855} height={1022} style={{ position: 'absolute', left: 0, top: 0, background: '#fff' }} />;
}
